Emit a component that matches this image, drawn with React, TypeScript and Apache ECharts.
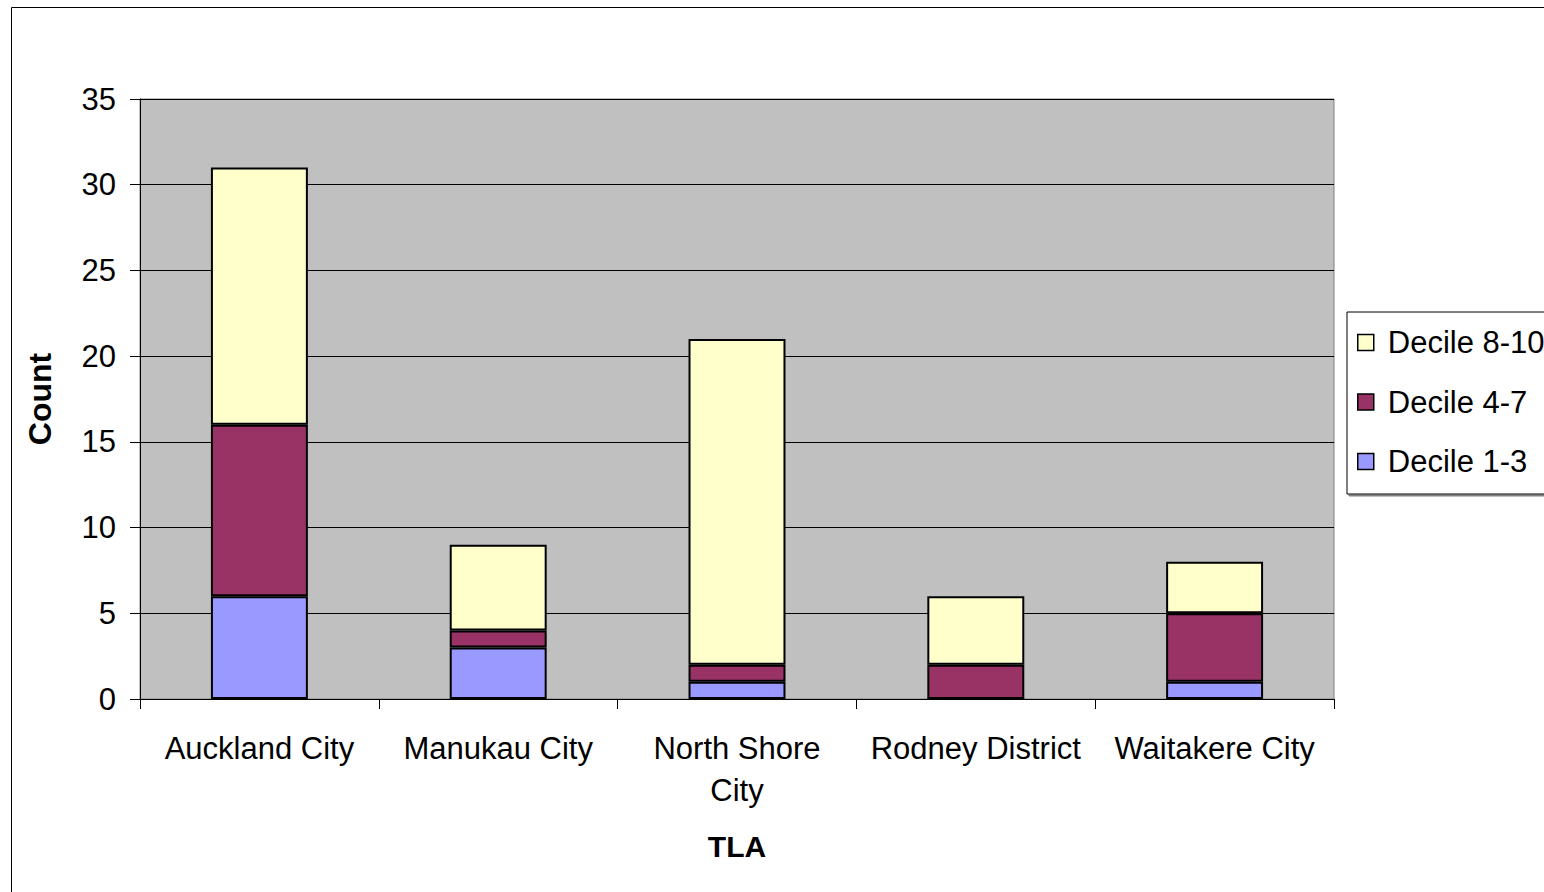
import React, { useEffect, useRef } from "react";
import * as echarts from "echarts";

const categories = ["Auckland City", "Manukau City", "North Shore\nCity", "Rodney District", "Waitakere City"];
const decile13 = [6, 3, 1, 0, 1];
const decile47 = [10, 1, 1, 2, 4];
const decile810 = [15, 5, 19, 4, 3];
const seriesNames = ["Decile 1-3", "Decile 4-7", "Decile 8-10"];
const colors = ["#9999FF", "#993366", "#FFFFCC"];

const FONT = "'Liberation Sans', Arial, sans-serif";

export default function App() {
  const ref = useRef<HTMLDivElement>(null);
  useEffect(() => {
    const chart = echarts.init(ref.current!, null, { renderer: "svg" });
    const data = [decile13, decile47, decile810];
    chart.setOption({
      animation: false,
      backgroundColor: "#ffffff",
      textStyle: { fontFamily: FONT },
      graphic: [
        {
          type: "rect",
          shape: { x: 11.5, y: 7.5, width: 1600, height: 1000 },
          style: { fill: "none", stroke: "#000", lineWidth: 1 },
          silent: true,
          z: -1,
        },
      ],
      grid: {
        left: 140,
        top: 99,
        width: 1194,
        height: 600,
        show: true,
        backgroundColor: "#C0C0C0",
        borderColor: "#808080",
        borderWidth: 1,
      },
      legend: {
        orient: "vertical",
        left: 1347,
        top: 312,
        data: [seriesNames[2], seriesNames[1], seriesNames[0]],
        backgroundColor: "#fff",
        borderColor: "#000",
        borderWidth: 1,
        padding: [15, 30, 17, 10],
        itemWidth: 16,
        itemHeight: 16,
        itemGap: 28.5,
        icon: "rect",
        itemStyle: { borderColor: "#000", borderWidth: 1.5 },
        textStyle: { fontSize: 31, color: "#000", fontFamily: FONT, lineHeight: 30, padding: [0, 0, 0, 9] },
        shadowColor: "#808080",
        shadowOffsetX: 2,
        shadowOffsetY: 2,
      },
      xAxis: {
        type: "category",
        data: categories,
        name: "TLA",
        nameLocation: "middle",
        nameGap: 132,
        nameTextStyle: { fontSize: 30, fontWeight: "bold", color: "#000", fontFamily: FONT },
        axisLine: { lineStyle: { color: "#000", width: 1 } },
        axisTick: { show: true, length: 10, lineStyle: { color: "#000" } },
        axisLabel: { fontSize: 31, color: "#000", margin: 28, lineHeight: 42, interval: 0, fontFamily: FONT },
      },
      yAxis: {
        type: "value",
        min: 0,
        max: 35,
        interval: 5,
        name: "Count",
        nameLocation: "middle",
        nameGap: 84,
        nameTextStyle: { fontSize: 32, fontWeight: "bold", color: "#000", fontFamily: FONT },
        axisLine: { show: true, lineStyle: { color: "#000", width: 1 } },
        axisTick: { show: true, length: 10, lineStyle: { color: "#000" } },
        axisLabel: { fontSize: 31, color: "#000", margin: 24, fontFamily: FONT },
        splitLine: { show: true, lineStyle: { color: "#000", width: 1 } },
      },
      series: seriesNames.map((name, i) => ({
        name,
        type: "bar",
        stack: "total",
        data: data[i],
        barWidth: "40.6%",
        itemStyle: { color: colors[i], borderColor: "#000", borderWidth: 2 },
      })),
    });
    return () => chart.dispose();
  }, []);
  return (
    <div
      ref={ref}
      style={{ position: "fixed", left: 0, top: 0, width: 1544, height: 892 }}
    />
  );
}
